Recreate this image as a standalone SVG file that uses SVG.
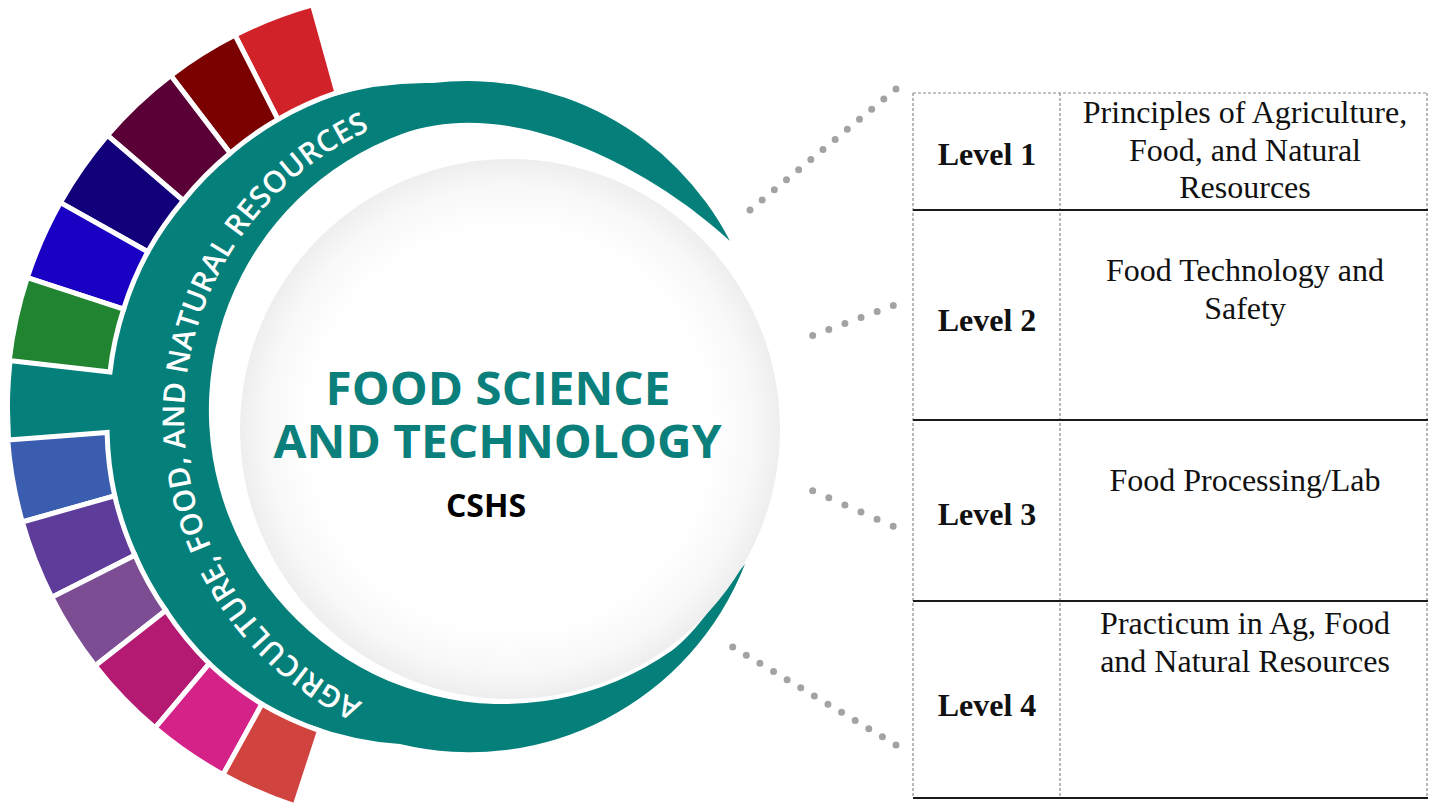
<svg xmlns="http://www.w3.org/2000/svg" width="1434" height="808" viewBox="0 0 1434 808">
<style>
.seg{stroke:#ffffff;stroke-width:5;stroke-linejoin:miter}
.teal{fill:#047f7a}
.dots{fill:none;stroke:#a3a3a3;stroke-width:7;stroke-linecap:round}
.dash{stroke:#8a8a8a;stroke-width:1.2;stroke-dasharray:3 2;fill:none}
.solid{stroke:#1a1a1a;stroke-width:2;fill:none}
.lvl{font-family:"Liberation Serif","Times New Roman",serif;font-weight:bold;font-size:32px;fill:#111;text-anchor:middle}
.crs{font-family:"Liberation Serif","Times New Roman",serif;font-size:32px;fill:#111;text-anchor:middle}
.title{font-family:"Open Sans","DejaVu Sans",sans-serif;font-weight:700;font-size:46px;fill:#0b7f7b;text-anchor:middle}
</style>
<defs>
<radialGradient id="disk" cx="0.5" cy="0.5" r="0.5">
<stop offset="0" stop-color="#ffffff"/>
<stop offset="0.74" stop-color="#ffffff"/>
<stop offset="0.9" stop-color="#f8f8f8"/>
<stop offset="1" stop-color="#eeeeee"/>
</radialGradient>
<path id="arcPath" d="M 362.5 702.5 A 316 316 0 0 1 371 129.6"/>
</defs>
<rect width="1434" height="808" fill="#ffffff"/>

<g id="ring">
<path class="teal" d="M 730 241 A 296 296 0 0 0 433 83 A 325 325 0 0 0 330 97.2 L 303.7 11.1 A 415 415 0 0 0 283.1 798 L 309.7 724.7 A 337 337 0 0 0 400 744.1 A 296 296 0 0 0 745 564 C 725.5 586.8 696.2 633.6 671.6 650.8 A 294 294 0 1 1 402.5 133.7 C 515 93 657 173 730 241 Z"/>
<text font-family="'Open Sans','DejaVu Sans',sans-serif" font-weight="600" font-size="30" fill="#ffffff"><textPath href="#arcPath" textLength="716" lengthAdjust="spacing">AGRICULTURE, FOOD, AND NATURAL RESOURCES</textPath></text>
</g>

<g id="segments">
<path class="seg" fill="#d12229" d="M 235 35.1 A 418.5 418.5 0 0 1 312.5 4.9 L 336.9 92.6 A 326 326 0 0 0 277.9 119.3 Z"/>
<path class="seg" fill="#7b0000" d="M 170.8 75.5 A 418.5 418.5 0 0 1 235 35.1 L 277.9 119.3 A 322 322 0 0 0 230.1 153.2 Z"/>
<path class="seg" fill="#5a0036" d="M 107.4 135.4 A 418.5 418.5 0 0 1 170.8 75.5 L 230.1 153.2 A 320 320 0 0 0 183.3 200.6 Z"/>
<path class="seg" fill="#10007a" d="M 60.4 202.6 A 418.5 418.5 0 0 1 107.4 135.4 L 183.3 200.6 A 318 318 0 0 0 147.8 251.8 Z"/>
<path class="seg" fill="#1a00c2" d="M 27.3 277.6 A 418.5 418.5 0 0 1 60.4 202.6 L 147.8 251.8 A 318 318 0 0 0 123.6 309.2 Z"/>
<path class="seg" fill="#218431" d="M 9.2 360.6 A 418.5 418.5 0 0 1 27.3 277.6 L 123.6 309.2 A 317 317 0 0 0 110 372.1 Z"/>
<path class="seg" fill="#3a5db0" d="M 22.3 522 A 418.5 418.5 0 0 1 7.7 440.1 L 107.1 432.5 A 320 320 0 0 0 114.7 495.8 Z"/>
<path class="seg" fill="#5e3c9a" d="M 51.8 597.3 A 418.5 418.5 0 0 1 22.3 522 L 114.7 495.8 A 324 324 0 0 0 134.9 555.2 Z"/>
<path class="seg" fill="#7d4d94" d="M 95.2 665.7 A 418.5 418.5 0 0 1 51.8 597.3 L 134.9 555.2 A 327 327 0 0 0 165.8 610.5 Z"/>
<path class="seg" fill="#b41a72" d="M 155.1 727.9 A 418.5 418.5 0 0 1 95.2 665.7 L 165.8 610.5 A 331 331 0 0 0 209.3 663.7 Z"/>
<path class="seg" fill="#d52289" d="M 223.1 774.6 A 418.5 418.5 0 0 1 155.1 727.9 L 209.3 663.7 A 336 336 0 0 0 261.9 704.1 Z"/>
<path class="seg" fill="#d0433f" d="M 295 805.8 A 418.5 418.5 0 0 1 223.1 774.6 L 261.9 704.1 A 339 339 0 0 0 319.5 730.7 Z"/>
</g>

<g id="center">
<circle cx="510" cy="429" r="270" fill="url(#disk)"/>
<text class="title" x="498" y="405" textLength="345" lengthAdjust="spacingAndGlyphs">FOOD SCIENCE</text>
<text class="title" x="497.5" y="458" textLength="448" lengthAdjust="spacingAndGlyphs">AND TECHNOLOGY</text>
<text x="486" y="517" font-family="'Open Sans','DejaVu Sans',sans-serif" font-weight="700" font-size="32" fill="#000" text-anchor="middle">CSHS</text>
</g>

<g id="connectors">
<line class="dots" x1="750" y1="210" x2="896" y2="89" stroke-dasharray="0 15.8"/>
<line class="dots" x1="812.7" y1="335.4" x2="893.3" y2="305.4" stroke-dasharray="0 17.2"/>
<line class="dots" x1="812.7" y1="490.7" x2="893.3" y2="526.4" stroke-dasharray="0 17.6"/>
<line class="dots" x1="732.7" y1="647" x2="896" y2="745" stroke-dasharray="0 15.87"/>
</g>

<g id="table">
<line class="dash" x1="913" y1="93" x2="1427" y2="93"/>
<line class="dash" x1="913" y1="93" x2="913" y2="798"/>
<line class="dash" x1="1060" y1="93" x2="1060" y2="798"/>
<line class="dash" x1="1427" y1="93" x2="1427" y2="798"/>
<line class="solid" x1="913" y1="210" x2="1428" y2="210"/>
<line class="solid" x1="913" y1="420" x2="1428" y2="420"/>
<line class="solid" x1="913" y1="601" x2="1428" y2="601"/>
<line class="solid" x1="913" y1="798" x2="1428" y2="798"/>
</g>

<g id="row1">
<text class="lvl" x="987" y="165">Level 1</text>
<text class="crs" x="1245" y="123">Principles of Agriculture,</text>
<text class="crs" x="1245" y="161">Food, and Natural</text>
<text class="crs" x="1245" y="198">Resources</text>
</g>
<g id="row2">
<text class="lvl" x="987" y="331">Level 2</text>
<text class="crs" x="1245" y="281">Food Technology and</text>
<text class="crs" x="1245" y="319">Safety</text>
</g>
<g id="row3">
<text class="lvl" x="987" y="525">Level 3</text>
<text class="crs" x="1245" y="491">Food Processing/Lab</text>
</g>
<g id="row4">
<text class="lvl" x="987" y="716">Level 4</text>
<text class="crs" x="1245" y="634">Practicum in Ag, Food</text>
<text class="crs" x="1245" y="672">and Natural Resources</text>
</g>
</svg>
